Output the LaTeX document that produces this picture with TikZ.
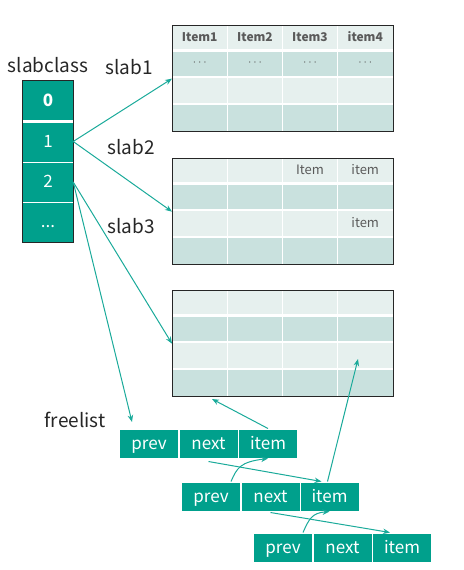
\documentclass[tikz,border=0pt]{standalone}
\usepackage{fontspec}
\setmainfont{Noto Sans CJK SC}
\usetikzlibrary{arrows.meta,calc}
\definecolor{tealf}{HTML}{00A08C}
\definecolor{teall}{HTML}{1AAA9A}
\definecolor{rowA}{HTML}{E6F0EE}
\definecolor{rowB}{HTML}{C9E1DE}
\definecolor{hdr}{HTML}{5A5A5A}
\newcommand{\slabtable}[2]{%
  \begin{scope}[shift={(172,#2)}]
    \fill[rowA] (0,0) rectangle (221,25);
    \fill[rowB] (0,25) rectangle (221,52);
    \fill[rowA] (0,52) rectangle (221,79);
    \fill[rowB] (0,79) rectangle (221,106);
    \draw[white, line width=3pt] (0,25) -- (221,25);
    \draw[white, line width=1.3pt] (0,52) -- (221,52) (0,79) -- (221,79);
    \draw[white, line width=1.3pt] (55.5,0) -- (55.5,106) (110.5,0) -- (110.5,106) (165.5,0) -- (165.5,106);
    \node[tbox, anchor=north west] (#1) at (0,0) {};
  \end{scope}}
\begin{document}
\begin{tikzpicture}[x=1pt,y=-1pt,
  tbox/.style={draw=black!85, line width=1.3pt, minimum width=221pt, minimum height=106pt, inner sep=0pt},
  sccell/.style={fill=tealf, minimum width=50pt, inner sep=0pt, text=white, text height=14pt, text depth=3pt, font=\fontsize{17}{17}\selectfont},
  cellbox/.style={fill=tealf, draw=white, line width=1pt, minimum width=59pt, minimum height=29pt, inner sep=0pt, text=white, text height=14pt, text depth=3pt, font=\fontsize{17}{17}\selectfont},
  link/.style={draw=teall, line width=1pt, -{Stealth[length=7pt,width=5.5pt]}},
  lbl/.style={font=\fontsize{19}{19}\selectfont, text=black!85, anchor=base, inner sep=0pt},
  hd/.style={font=\fontsize{12}{12}\selectfont\bfseries, text=hdr, text height=9pt, text depth=2.5pt, inner sep=0pt},
  tx/.style={font=\fontsize{13}{13}\selectfont, text=hdr, text height=9.5pt, text depth=2.5pt, inner sep=0pt}
]
\useasboundingbox (0,0) rectangle (463,570);
% labels
\node[lbl] (lsc) at (48,72.5) {slabclass};
\node[lbl] (ls1) at (129,74) {slab1};
\node[lbl] (ls2) at (131,154.5) {slab2};
\node[lbl] (ls3) at (131,233) {slab3};
\node[lbl] (lfl) at (75,427) {freelist};
% slabclass column
\node[sccell, minimum height=40pt, font=\fontsize{17}{17}\selectfont\bfseries] (c0) at (48,101) {0};
\node[sccell, minimum height=41pt] (c1) at (48,141.5) {1};
\node[sccell, minimum height=40pt] (c2) at (48,182) {2};
\node[sccell, minimum height=40pt] (c3) at (48,222) {...};
\draw[white, line width=3pt] (c0.south west) -- (c0.south east);
\draw[white, line width=1.3pt] (c1.south west) -- (c1.south east) (c2.south west) -- (c2.south east);
\draw[black!85, line width=1.3pt] (c0.north west) rectangle (c3.south east);
% tables
\slabtable{t1}{25}
\slabtable{t2}{158}
\slabtable{t3}{290}
% table texts
\node[hd] (h1) at (199.75,38) {Item1};
\node[hd] (h2) at (255,38) {Item2};
\node[hd] (h3) at (310,38) {Item3};
\node[hd] (h4) at (365.25,38) {item4};
\foreach \x/\n in {199.75/a,255/b,310/c,365.25/d}{\node[tx] (dots\n) at (\x,62) {$\cdots$};}
\node[tx] (t2h3) at (310,171) {Item};
\node[tx] (t2h4) at (365.25,171) {item};
\node[tx] (t2r3) at (365.25,224) {item};
% freelist
\node[cellbox] (p1) at (149,443.5) {prev};
\node[cellbox] (n1) at (208.5,443.5) {next};
\node[cellbox] (i1) at (268,443.5) {item};
\node[cellbox] (p2) at (211,496.5) {prev};
\node[cellbox] (n2) at (270.5,496.5) {next};
\node[cellbox] (i2) at (329.5,496.5) {item};
\node[cellbox] (p3) at (283,547.5) {prev};
\node[cellbox] (n3) at (342.5,547.5) {next};
\node[cellbox] (i3) at (402,547.5) {item};
\coordinate (flend) at (132,422);
\coordinate (t3low) at (212,399);
\coordinate (t3mark) at (358,359);
% connectors
\draw[link] (c1.east) -- (t1.west);
\draw[link] (c1.east) -- (t2.west);
\draw[link] (c2.east) -- (t3.west);
\draw[link] (c2.east) -- (flend);
\draw[link] (i1.north) -- (t3low);
\draw[link] ([yshift=-3pt]n1.south) -- ([xshift=-8pt]i2.north);
\draw[link] ([xshift=20pt]p2.north) .. controls (237,468) and (240,462) .. (i1.south);
\draw[link] ([xshift=-2pt]i2.north) -- (t3mark);
\draw[link] ([yshift=-1pt]n2.south) -- ([xshift=-12pt]i3.north);
\draw[link] ([xshift=20pt]p3.north) .. controls (309,519) and (312,513) .. (i2.south);
\end{tikzpicture}
\end{document}
